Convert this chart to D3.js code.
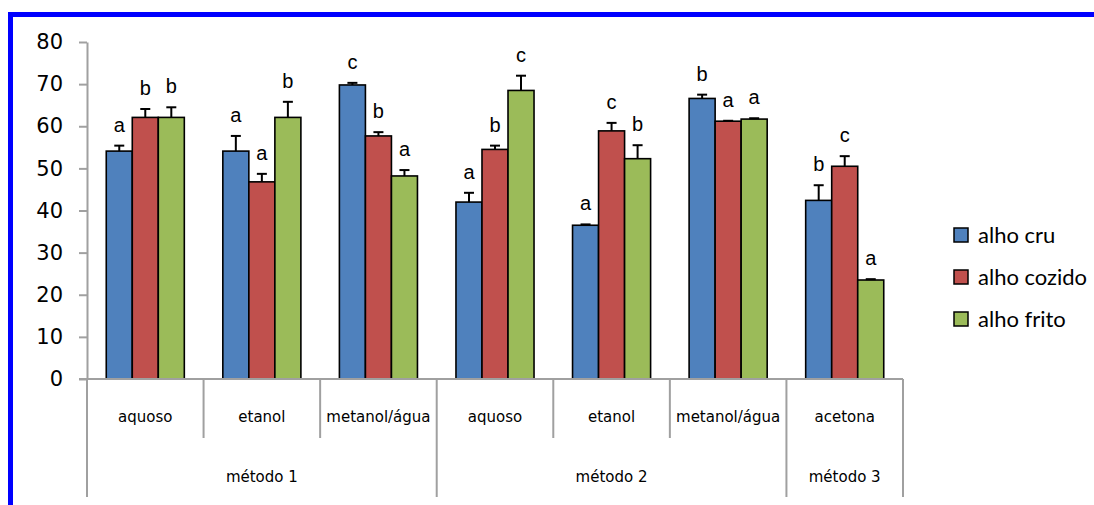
<!DOCTYPE html>
<html>
<head>
<meta charset="utf-8">
<script src="https://cdn.jsdelivr.net/npm/d3@7"></script>
<style>
  body { margin: 0; background: #fff; }
</style>
</head>
<body>
<div class="graph"></div>
<script>
// chart values
var categories = ['aquoso', 'etanol', 'metanol/água', 'aquoso', 'etanol', 'metanol/água', 'acetona'];
var methodNames = ['método 1', 'método 2', 'método 3'];
var methodSpans = [3, 3, 1];
var seriesNames = ['alho cru', 'alho cozido', 'alho frito'];

var cru    = [54.1, 54.1, 69.8, 42.0, 36.5, 66.6, 42.4];
var cozido = [62.1, 46.8, 57.7, 54.5, 58.9, 61.2, 50.5];
var frito  = [62.1, 62.1, 48.2, 68.5, 52.3, 61.7, 23.5];

var cruErr    = [1.3, 3.6, 0.5, 2.2, 0.2, 0.9, 3.6];
var cozidoErr = [2.0, 1.9, 0.9, 0.9, 1.9, 0.1, 2.4];
var fritoErr  = [2.4, 3.7, 1.4, 3.5, 3.2, 0.2, 0.2];

var cruLetters    = ['a', 'a', 'c', 'a', 'a', 'b', 'b'];
var cozidoLetters = ['b', 'a', 'b', 'b', 'c', 'a', 'c'];
var fritoLetters  = ['b', 'b', 'a', 'c', 'b', 'a', 'a'];

var yTicks = [0, 10, 20, 30, 40, 50, 60, 70, 80];

var colors = ['#4f81bd', '#c0504d', '#9bbb59'];
var values = [cru, cozido, frito];
var errs = [cruErr, cozidoErr, fritoErr];
var letters = [cruLetters, cozidoLetters, fritoLetters];

var size = { width: 1094, height: 505 };
var plot = { left: 87, right: 903, top: 42, bottom: 379 };

var svg = d3.select('.graph').append('svg')
  .attr('width', size.width)
  .attr('height', size.height);

// blue frame (only top and left edges visible)
svg.append('rect')
  .attr('x', 10.5).attr('y', 14.5)
  .attr('width', 1200).attr('height', 700)
  .attr('fill', 'none')
  .attr('stroke', '#0000ff')
  .attr('stroke-width', 5);

var xScale = d3.scaleBand().domain(d3.range(categories.length))
  .range([plot.left, plot.right]).padding(0);
var inner = d3.scaleBand().domain(d3.range(3))
  .range([0, xScale.bandwidth()]).paddingInner(0).paddingOuter(0.74);
var yScale = d3.scaleLinear().domain([0, 80]).range([plot.bottom, plot.top]);

// y axis
var yAxis = d3.axisLeft(yScale).tickValues(yTicks).tickSize(8).tickSizeOuter(0).tickPadding(16);
var yg = svg.append('g').attr('transform', 'translate(' + plot.left + ',0)').call(yAxis);
yg.selectAll('path, line').attr('stroke', '#a0a0a0').attr('stroke-width', 2);
yg.selectAll('text')
  .attr('font-family', 'DejaVu Sans')
  .attr('font-size', 21)
  .attr('fill', '#000');

// bars
var flat = [];
categories.forEach(function(c, i) {
  for (var s = 0; s < 3; s++) {
    flat.push({ cat: i, s: s, value: values[s][i], err: errs[s][i], letter: letters[s][i] });
  }
});

svg.selectAll('rect.bar').data(flat).enter().append('rect')
  .attr('class', 'bar')
  .attr('x', function(d) { return xScale(d.cat) + inner(d.s); })
  .attr('y', function(d) { return yScale(d.value); })
  .attr('width', inner.bandwidth())
  .attr('height', function(d) { return yScale(0) - yScale(d.value); })
  .attr('fill', function(d) { return colors[d.s]; })
  .attr('stroke', '#000')
  .attr('stroke-width', 1.6);

// error bars
var eb = svg.selectAll('g.err').data(flat).enter().append('g').attr('class', 'err')
  .attr('transform', function(d) {
    return 'translate(' + (xScale(d.cat) + inner(d.s) + inner.bandwidth() / 2) + ',0)';
  });
eb.append('line')
  .attr('x1', 0).attr('x2', 0)
  .attr('y1', function(d) { return yScale(d.value); })
  .attr('y2', function(d) { return yScale(d.value + d.err); })
  .attr('stroke', '#000').attr('stroke-width', 2);
eb.append('line')
  .attr('x1', -5).attr('x2', 5)
  .attr('y1', function(d) { return yScale(d.value + d.err); })
  .attr('y2', function(d) { return yScale(d.value + d.err); })
  .attr('stroke', '#000').attr('stroke-width', 2);

// significance letters
svg.selectAll('text.letter').data(flat).enter().append('text')
  .attr('class', 'letter')
  .attr('x', function(d) { return xScale(d.cat) + inner(d.s) + inner.bandwidth() / 2; })
  .attr('y', function(d) { return yScale(d.value + d.err) - 14; })
  .attr('text-anchor', 'middle')
  .attr('font-family', 'Liberation Sans')
  .attr('font-size', 20)
  .attr('fill', '#000')
  .text(function(d) { return d.letter; });

// x axis: baseline + category dividers + method dividers
var axisColor = '#a0a0a0';
svg.append('line')
  .attr('x1', plot.left - 8).attr('x2', plot.right)
  .attr('y1', plot.bottom).attr('y2', plot.bottom)
  .attr('stroke', axisColor).attr('stroke-width', 2);

var methodEdges = [0];
methodSpans.forEach(function(s, i) { methodEdges.push(methodEdges[i] + s); });

var edges = d3.range(categories.length + 1);
svg.selectAll('line.div').data(edges).enter().append('line')
  .attr('class', 'div')
  .attr('x1', function(d) { return d < categories.length ? xScale(d) : plot.right; })
  .attr('x2', function(d) { return d < categories.length ? xScale(d) : plot.right; })
  .attr('y1', plot.bottom)
  .attr('y2', function(d) { return methodEdges.indexOf(d) >= 0 ? 497 : 438; })
  .attr('stroke', axisColor).attr('stroke-width', 2);

svg.selectAll('text.cat').data(categories).enter().append('text')
  .attr('class', 'cat')
  .attr('x', function(d, i) { return xScale(i) + xScale.bandwidth() / 2; })
  .attr('y', 422)
  .attr('text-anchor', 'middle')
  .attr('font-family', 'DejaVu Sans')
  .attr('font-size', 15)
  .attr('fill', '#000')
  .text(function(d) { return d; });

svg.selectAll('text.method').data(methodNames).enter().append('text')
  .attr('class', 'method')
  .attr('x', function(d, i) {
    var a = xScale(methodEdges[i]);
    var end = methodEdges[i + 1];
    var b = end < categories.length ? xScale(end) : plot.right;
    return (a + b) / 2;
  })
  .attr('y', 482)
  .attr('text-anchor', 'middle')
  .attr('font-family', 'DejaVu Sans')
  .attr('font-size', 15)
  .attr('fill', '#000')
  .text(function(d) { return d; });

// legend
var legend = svg.selectAll('g.legend').data(seriesNames).enter().append('g')
  .attr('class', 'legend')
  .attr('transform', function(d, i) { return 'translate(954,' + (228 + i * 42) + ')'; });
legend.append('rect')
  .attr('width', 14).attr('height', 14)
  .attr('fill', function(d, i) { return colors[i]; })
  .attr('stroke', '#000').attr('stroke-width', 1.5);
legend.append('text')
  .attr('x', 24).attr('y', 15)
  .attr('font-family', 'Lato')
  .attr('font-size', 22)
  .attr('fill', '#000')
  .text(function(d) { return d; });
</script>
</body>
</html>
